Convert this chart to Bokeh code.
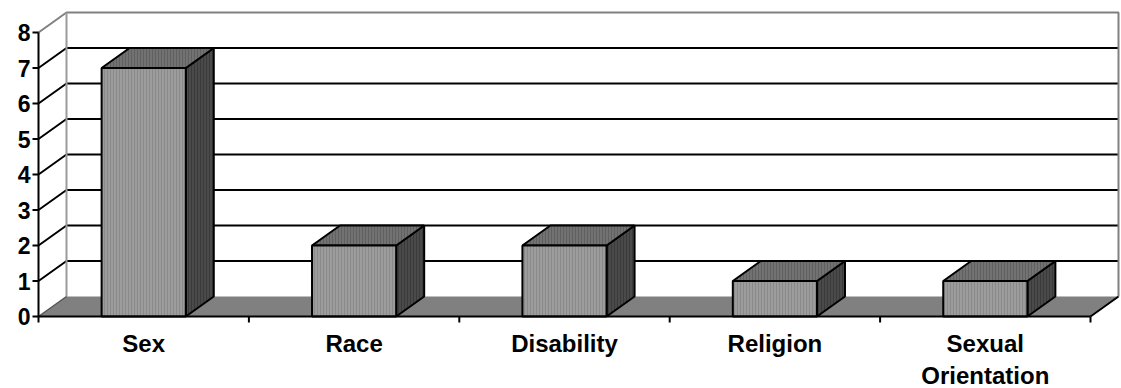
from bokeh.plotting import figure
from bokeh.models import Range1d
from bokeh.core.properties import value
from bokeh.embed import file_html
from bokeh.resources import INLINE

categories = ["Sex", "Race", "Disability", "Religion", "Sexual\nOrientation"]
counts = [7, 2, 2, 1, 1]
y_ticks = [0, 1, 2, 3, 4, 5, 6, 7, 8]
y_labels = ["0", "1", "2", "3", "4", "5", "6", "7", "8"]

W, H = 1121, 388
PX_X = 210.4   # pixels per category
PX_Y = 35.5    # pixels per unit
X0_PX, Y0_PX = 38, 316
x0 = -X0_PX / PX_X
y0 = -(H - Y0_PX) / PX_Y
DX = 28 / PX_X
DY = 20 / PX_Y
N = len(categories)
YMAX = 8
HALF = 0.2

p = figure(width=W, height=H, output_backend="svg", toolbar_location=None,
           x_range=Range1d(x0, x0 + W / PX_X), y_range=Range1d(y0, y0 + H / PX_Y),
           min_border=0, outline_line_color=None)
p.axis.visible = False
p.grid.visible = False

# back wall
p.patch([DX, N + DX, N + DX, DX], [DY, DY, YMAX + DY, YMAX + DY],
        fill_color="white", line_color=None)
# gridlines (back wall + left wall)
for v in y_ticks[1:-1]:
    p.line([0, DX, N + DX], [v, v + DY, v + DY], line_color="black", line_width=2)
# wall borders (gray)
p.line([0, DX, N + DX, N + DX], [YMAX, YMAX + DY, YMAX + DY, DY],
       line_color="#808080", line_width=2)
p.line([DX, DX], [DY, YMAX + DY], line_color="#9a9a9a", line_width=2)

# floor
p.patch([0, N, N + DX, DX], [0, 0, DY, DY], fill_color="#808080", line_color=None)
p.line([0, DX], [0, DY], line_color="#555555", line_width=1.5)
p.line([N, N + DX], [0, DY], line_color="black", line_width=2)

# bars
for i, v in enumerate(counts):
    c = i + 0.5
    l, r = c - HALF, c + HALF
    # side
    p.patch([r, r + DX, r + DX, r], [0, DY, v + DY, v], fill_color="#4a4a4a",
            hatch_pattern="vertical_line", hatch_color="#3a3a3a", hatch_scale=3,
            hatch_weight=1, line_color="black", line_width=2)
    # top
    p.patch([l, r, r + DX, l + DX], [v, v, v + DY, v + DY], fill_color="#727272",
            hatch_pattern="vertical_line", hatch_color="#606060", hatch_scale=3,
            hatch_weight=1, line_color="black", line_width=2)
    # front
    p.patch([l, r, r, l], [0, 0, v, v], fill_color="#9c9c9c",
            hatch_pattern="vertical_line", hatch_color="#8a8a8a", hatch_scale=3,
            hatch_weight=1, line_color="black", line_width=2)

# y axis
p.line([0, 0], [0, YMAX], line_color="black", line_width=2)
tick_len_x = 6 / PX_X
p.segment(x0=[-tick_len_x] * len(y_ticks), y0=y_ticks, x1=[0] * len(y_ticks), y1=y_ticks,
          line_color="black", line_width=2)
p.text(x=[-8 / PX_X] * len(y_ticks), y=y_ticks, text=y_labels,
       text_font=value("Liberation Sans"), text_font_style="bold",
       text_font_size="23px", text_align="right", text_baseline="middle",
       text_color="black")

# x axis
p.line([0, N], [0, 0], line_color="black", line_width=2)
xt = list(range(N + 1))
p.segment(x0=xt, y0=[0] * len(xt), x1=xt, y1=[-6 / PX_Y] * len(xt),
          line_color="black", line_width=2)
p.text(x=[i + 0.5 for i in range(N)], y=[-13 / PX_Y] * N, text=categories,
       text_font=value("Liberation Sans"), text_font_style="bold",
       text_font_size="24px", text_align="center", text_baseline="top",
       text_line_height=1.2, text_color="black")

open("out.html", "w").write(file_html(p, INLINE))
